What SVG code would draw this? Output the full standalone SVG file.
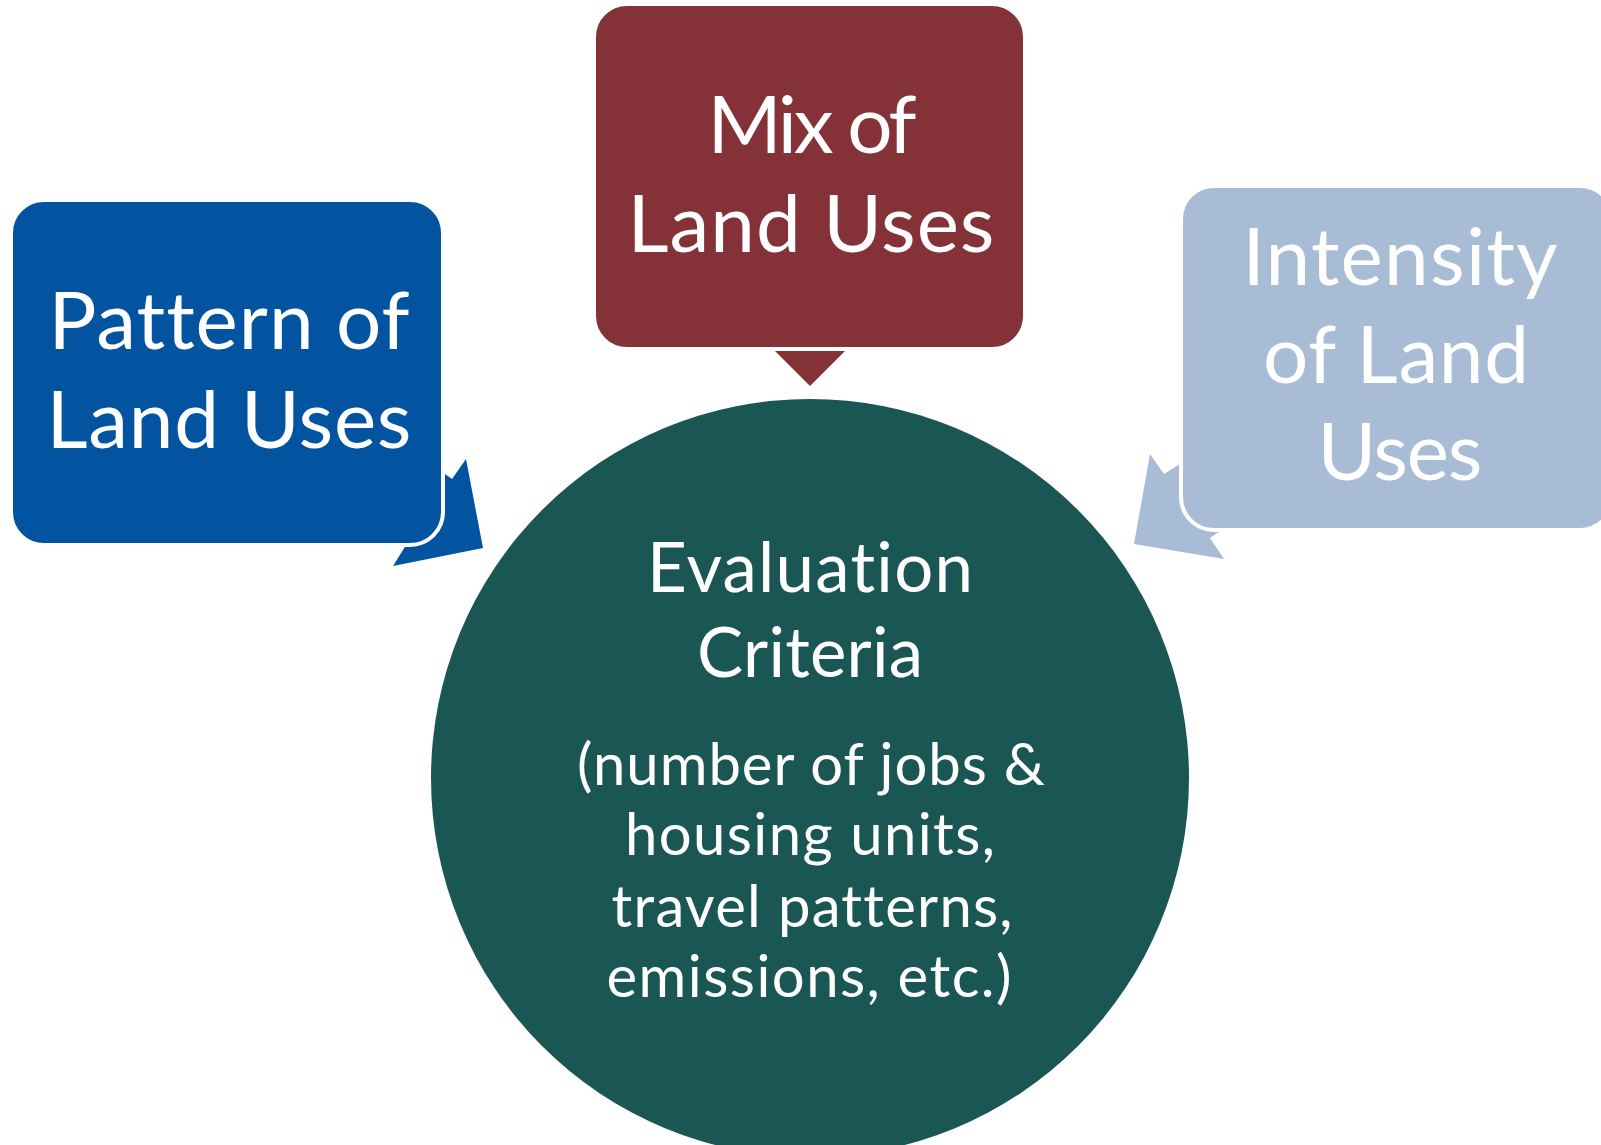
<svg xmlns="http://www.w3.org/2000/svg" width="1601" height="1145" viewBox="0 0 1601 1145">
<style>
.box{stroke:#fff;stroke-width:4}
.t{font-family:Lato,"Open Sans","Liberation Sans",sans-serif;fill:#fff;text-anchor:middle;font-variant-ligatures:none;font-feature-settings:"liga" 0,"clig" 0,"dlig" 0}
.big{font-size:80px}
.mid{font-size:69px}
.sm{font-size:58px}
</style>
<rect width="1601" height="1145" fill="#fff"/>
<g id="connectors">
<polygon points="420,456 452,479 466,459 483,548 393,566 418,526" fill="#0254A0"/>
<polygon points="764,340 856,340 810,386" fill="#843237"/>
<polygon points="1150,454 1164,474 1196,454 1231,523 1217,533 1210,538 1224,559 1134,544" fill="#A9BCD5"/>
</g>
<g id="node-evaluation">
<circle cx="810" cy="778" r="379" fill="#1A5653"/>
<text class="t mid" x="810" y="592" textLength="326">Evaluation</text>
<text class="t mid" x="810" y="677" textLength="226">Criteria</text>
<text class="t sm" x="811" y="785" textLength="468">(number of jobs &amp;</text>
<text class="t sm" x="810" y="855" textLength="370">housing units,</text>
<text class="t sm" x="812" y="927" textLength="401">travel patterns,</text>
<text class="t sm" x="809" y="997" textLength="405">emissions, etc.)</text>
</g>
<g id="node-pattern">
<rect class="box" x="11" y="200" width="432" height="345" rx="33" fill="#0254A0"/>
<text class="t big" x="229" y="349" textLength="361">Pattern of</text>
<text class="t big" x="229" y="448" textLength="365">Land Uses</text>
</g>
<g id="node-mix">
<rect class="box" x="594" y="4" width="431" height="345" rx="33" fill="#843237"/>
<text class="t big" x="812" y="153" textLength="209">Mix of</text>
<text class="t big" x="811" y="252" textLength="367">Land Uses</text>
</g>
<g id="node-intensity">
<rect class="box" x="1181" y="186" width="432" height="344" rx="33" fill="#A9BCD5"/>
<text class="t big" x="1400" y="285" textLength="315">Intensity</text>
<text class="t big" x="1396" y="383" textLength="266">of Land</text>
<text class="t big" x="1400" y="480" textLength="165">Uses</text>
</g>
</svg>
